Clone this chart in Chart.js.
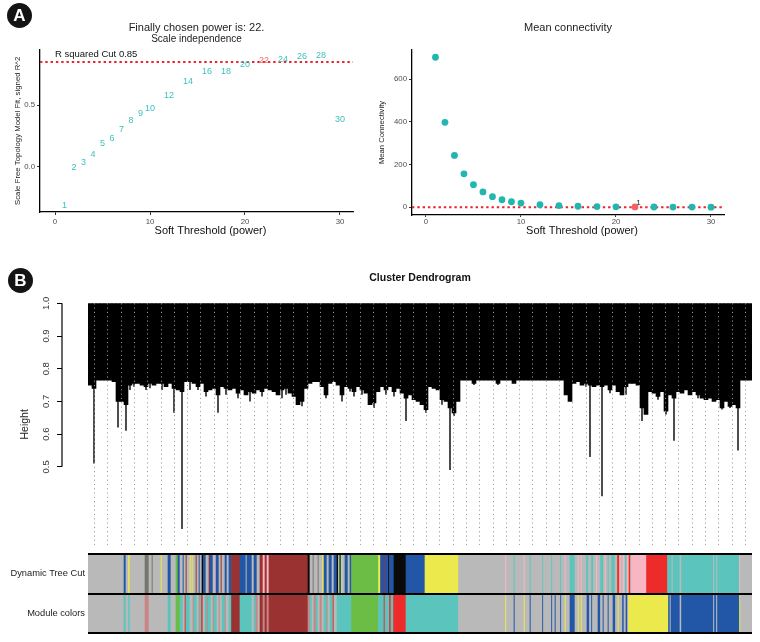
<!DOCTYPE html>
<html><head><meta charset="utf-8">
<script src="https://cdn.jsdelivr.net/npm/chart.js@4.4.1/dist/chart.umd.min.js"></script>
<style>
html,body{margin:0;padding:0;background:#fff;}
#wrap{position:relative;width:760px;height:642px;overflow:hidden;background:#fff;}
canvas{position:absolute;}
.tag{position:absolute;width:25px;height:25px;border-radius:50%;background:#141414;color:#fff;font:bold 17px "Liberation Sans",Arial,sans-serif;text-align:center;line-height:25px;}
</style></head><body>
<div id="wrap">
<canvas id="cA1" width="380" height="245" style="left:0;top:0"></canvas>
<canvas id="cA2" width="386" height="245" style="left:374px;top:0"></canvas>
<canvas id="cB" width="760" height="300" style="left:0;top:255px"></canvas>
<canvas id="cC" width="760" height="97" style="left:0;top:545px"></canvas>
<div class="tag" style="left:7px;top:3px">A</div>
<div class="tag" style="left:8px;top:268px">B</div>
</div>
<script>
// ---------------- DATA ----------------
const powers = [1,2,3,4,5,6,7,8,9,10,12,14,16,18,20,22,24,26,28,30];
const scaleFitR2 = [-0.32,-0.01,0.035,0.10,0.19,0.23,0.30,0.375,0.43,0.47,0.58,0.69,0.775,0.77,0.83,0.865,0.87,0.895,0.90,0.38];
const meanConnectivity = [703,398,243,157,106,72,50,36,26,20,12,8,5,3.5,2.5,2,1.5,1.2,1,0.8];
const chosenPower = 22;
const r2Cut = 0.85;
const connectivityCut = 0;
const chosenTag = "1";
const powerTicks = [0,10,20,30];
const r2Ticks = [0,0.5];
const connectivityTicks = [0,200,400,600];
const xTitle = 'Soft Threshold (power)';

// dendrogram: merge height at which each leaf group joins (leaf order)
const leafHeights = [
0.75,0.74,0.765,0.765,0.765,0.765,0.76,0.70,0.70,0.69,
0.75,0.755,0.755,0.75,0.745,0.755,0.75,0.755,0.755,0.745,
0.755,0.74,0.735,0.73,0.76,0.76,0.755,0.745,0.755,0.73,
0.735,0.74,0.72,0.745,0.74,0.735,0.74,0.725,0.735,0.72,
0.73,0.725,0.735,0.73,0.74,0.735,0.73,0.72,0.735,0.74,
0.725,0.715,0.69,0.70,0.74,0.755,0.76,0.76,0.745,0.72,
0.755,0.76,0.75,0.72,0.745,0.74,0.73,0.745,0.735,0.725,
0.69,0.695,0.73,0.745,0.735,0.745,0.73,0.74,0.725,0.71,
0.72,0.705,0.70,0.69,0.675,0.745,0.74,0.735,0.705,0.70,
0.68,0.665,0.70,0.765,0.765,0.765,0.755,0.765,0.765,0.765,
0.765,0.765,0.755,0.765,0.765,0.765,0.755,0.765,0.765,0.765,
0.765,0.765,0.765,0.765,0.765,0.765,0.765,0.765,0.765,0.72,
0.70,0.755,0.76,0.75,0.755,0.75,0.745,0.75,0.745,0.75,
0.735,0.75,0.73,0.72,0.745,0.755,0.755,0.75,0.68,0.66,
0.73,0.725,0.715,0.73,0.67,0.72,0.71,0.73,0.725,0.735,
0.72,0.73,0.72,0.71,0.705,0.71,0.70,0.705,0.68,0.70,
0.685,0.69,0.68,0.765,0.765,0.765];
// single thin branches hanging below the merged mass: [leaf, height]
const thinBranches = [
[1,0.51],[7,0.62],[9,0.61],[10,0.735],[11,0.745],[14,0.735],[15,0.74],[18,0.735],[21,0.665],[23,0.31],
[25,0.735],[27,0.735],[29,0.715],[32,0.665],[34,0.72],[37,0.71],[40,0.70],[43,0.715],[48,0.71],[49,0.72],
[53,0.685],[59,0.71],[63,0.70],[65,0.73],[66,0.715],[68,0.72],[71,0.68],[74,0.72],[76,0.715],[79,0.64],
[84,0.665],[88,0.69],[90,0.49],[91,0.655],[96,0.75],[102,0.75],[124,0.745],[125,0.53],[128,0.41],[130,0.725],
[134,0.72],[138,0.64],[142,0.705],[144,0.66],[146,0.58],[152,0.71],[158,0.675],[160,0.68],[162,0.55]];
const heightTicks = [0.5,0.6,0.7,0.8,0.9,1.0];
const guideCount = 50;

// colour rows: [module, cumulative rank at end of run] (664 ranks in leaf order)
const colorRowLabels = ["Dynamic Tree Cut","Module colors"];
const treeCutRuns = [
["grey",36],["blue",38],["grey",40.5],["yellow",42],["grey",57],["darkgrey",61],["grey",64],["darkgrey",65],["grey",73],["yellow",74],
["grey",80],["blue",83],["grey",88],["green",90],["blue",92],["grey",95],["blue",96],["grey",98],["brown",99],["grey",102],
["yellow",103],["grey",104],["yellow",105],["grey",108],["brown",109],["grey",111],["blue",112],["grey",114],["black",115.5],["blue",118],
["grey",121],["brown",122],["blue",125],["grey",127],["pink",128],["blue",131],["grey",133],["brown",134],["grey",137],["blue",139],
["grey",141],["blue",143.5],["brown",152],["blue",158],["grey",159],["blue",164],["grey",166],["blue",169],["grey",172],["brown",175],
["pink",177],["brown",179],["pink",181],["brown",220],["black",222],["grey",225],["darkgrey",226],["grey",230],["darkgrey",231],["grey",234.5],
["yellow",236],["blue",239],["grey",241],["blue",244],["grey",246],["blue",249],["black",250.5],["yellow",251.5],["blue",253.5],["yellow",254.5],
["grey",257],["blue",260],["grey",262],["blue",263.5],["green",290.5],["yellow",292.5],["blue",296],["brown",297],["blue",300.5],["black",301.5],
["blue",306],["black",318],["blue",337],["yellow",370.5],["grey",417.5],["pink",418.5],["grey",426],["turquoise",427],["grey",436],["pink",437],
["grey",442],["turquoise",443],["grey",454.5],["turquoise",455.5],["grey",463.5],["turquoise",464.5],["grey",472.5],["turquoise",473.5],["grey",477],["pink",478],
["grey",482],["turquoise",487],["grey",490],["pink",491],["grey",493],["pink",494],["grey",498.5],["turquoise",500.5],["grey",503.5],["turquoise",505.5],
["grey",508.5],["pink",509.5],["grey",512.5],["turquoise",515.5],["grey",517],["pink",518],["grey",520],["turquoise",521],["grey",523.5],["turquoise",527],
["grey",529.5],["red",531.5],["pink",533],["grey",535],["pink",537],["turquoise",539],["pink",541],["red",542.5],["grey",543.5],["pink",558.5],
["red",579.5],["turquoise",584],["grey",585],["turquoise",592],["grey",593.5],["turquoise",625.5],["grey",626.5],["turquoise",628.5],["grey",629.5],["turquoise",651.5],
["pink",652.5],["grey",664]];
const moduleColorRuns = [
["grey",36],["turquoise",38],["grey",40.5],["turquoise",42],["grey",57],["salmon",61],["grey",80],["turquoise",83],["grey",88],["green",92],
["turquoise",95],["grey",97],["red",98],["turquoise",102],["grey",105],["salmon",106],["turquoise",109],["grey",111],["salmon",112],["turquoise",113.5],
["red",115],["grey",117],["turquoise",119],["salmon",120],["turquoise",123],["grey",125],["salmon",126],["turquoise",129],["grey",131],["salmon",132],
["grey",134],["turquoise",137],["salmon",138],["grey",141],["turquoise",143.5],["brown",152],["turquoise",164],["grey",166],["turquoise",168],["salmon",170],
["grey",172],["brown",175],["salmon",177],["brown",179],["salmon",181],["brown",220],["salmon",222],["turquoise",224],["grey",226],["salmon",228],
["turquoise",230],["grey",232],["salmon",234],["grey",236],["turquoise",239],["salmon",240],["grey",242],["turquoise",245],["red",246],["grey",249],
["turquoise",263.5],["green",290.5],["turquoise",296],["red",297],["turquoise",301.5],["red",303],["turquoise",305.5],["red",318],["turquoise",370.5],["grey",417.5],
["yellow",418.5],["grey",426],["blue",427],["grey",436],["yellow",437],["grey",442],["blue",443],["grey",454.5],["blue",455.5],["grey",463.5],
["blue",464.5],["grey",467],["blue",468],["grey",472.5],["blue",473.5],["grey",477],["yellow",478],["grey",482],["blue",487],["grey",490],
["yellow",491],["grey",493],["yellow",494],["grey",499],["blue",501.5],["grey",503.5],["blue",504.5],["grey",510],["blue",512.5],["grey",515],
["blue",516],["grey",520],["blue",521],["grey",525],["blue",527.5],["grey",530],["yellow",531],["grey",534.5],["blue",536],["grey",538],
["blue",539.5],["grey",540.5],["yellow",580.5],["blue",582],["grey",583],["blue",592],["grey",593.5],["blue",625.5],["grey",626.5],["blue",628.5],
["grey",629.5],["blue",651.5],["yellow",652.5],["grey",664]];
const moduleColors = {
  grey:"#b9b9b9", turquoise:"#5bc5bd", blue:"#2256a6", brown:"#9b3232", yellow:"#ece94c",
  green:"#6cbd45", red:"#ee2b2b", pink:"#f7b6c1", black:"#0a0a0a", darkgrey:"#77766e", salmon:"#c98585"
};

// ---------------- STYLE ----------------
const FONT = '"Liberation Sans", Arial, Helvetica, sans-serif';
Chart.defaults.font.family = FONT;
Chart.defaults.color = '#222';
Chart.defaults.animation = false;
const CYAN_TXT = '#3cc2bd', CYAN_PT = '#22b6b1', RED = '#e8262b', RED_LBL = '#ef6b6b';

function dottedHLine(valueGetter){
  return {
    id:'cutLine',
    beforeDatasetsDraw(chart){
      const y = chart.scales.y.getPixelForValue(valueGetter());
      const a = chart.chartArea, ctx = chart.ctx;
      ctx.save(); ctx.strokeStyle = RED; ctx.lineWidth = 2; ctx.setLineDash([2.4,2.9]);
      ctx.beginPath(); ctx.moveTo(a.left, y); ctx.lineTo(a.right, y); ctx.stroke(); ctx.restore();
    }
  };
}
// x-axis title, placed slightly right of the panel centre as in the original figure
const xTitlePlugin = {
  id:'xTitle',
  afterDraw(chart){
    const a = chart.chartArea, ctx = chart.ctx;
    ctx.save(); ctx.fillStyle='#111'; ctx.font='11px '+FONT; ctx.textAlign='center'; ctx.textBaseline='middle';
    ctx.fillText(xTitle, (a.left+a.right)/2 + 14, chart.height - 14); ctx.restore();
  }
};
function ggAxis(min,max,tickList,opts){
  return Object.assign({
    type:'linear', min, max,
    afterBuildTicks:s=>{ s.ticks = tickList.map(v=>({value:v})); },
    ticks:{color:'#4d4d4d', font:{size:7.8}, padding:2},
    grid:{drawOnChartArea:false, tickLength:3, color:'#333', tickColor:'#333'},
    border:{display:true, color:'#000', width:1.3}
  }, opts);
}

// ---------------- A1: scale independence ----------------
new Chart(document.getElementById('cA1'), {
  type:'scatter',
  data:{datasets:[{data:powers.map((p,i)=>({x:p,y:scaleFitR2[i]})), pointRadius:0, pointHoverRadius:0}]},
  options:{
    responsive:false, events:[],
    layout:{padding:{right:27}},
    plugins:{
      legend:{display:false}, tooltip:{enabled:false},
      title:{display:true, fullSize:false, text:'Finally chosen power is: 22.', color:'#222', font:{size:11, weight:'normal', lineHeight:1.0}, padding:{top:22.3,bottom:0.5}},
      subtitle:{display:true, fullSize:false, text:'Scale independence', color:'#222', font:{size:10, lineHeight:1.0}, padding:{top:0,bottom:5.9}}
    },
    scales:{
      x: ggAxis(-1.58,31.37,powerTicks,{afterFit:s=>{s.height=33;}}),
      y: ggAxis(-0.372,0.951,r2Ticks,{afterFit:s=>{s.width=40;},
        ticks:{color:'#4d4d4d', font:{size:7.8}, padding:2, callback:v=>Number(v).toFixed(1)},
        title:{display:true,text:'Scale Free Topology Model Fit, signed R^2',color:'#222',font:{size:7.8},padding:{top:13,bottom:0}}})
    }
  },
  plugins:[dottedHLine(()=>r2Cut), xTitlePlugin, {
    id:'labels',
    afterDatasetsDraw(chart){
      const ctx = chart.ctx, meta = chart.getDatasetMeta(0);
      ctx.save(); ctx.font = '9px '+FONT; ctx.textAlign='center'; ctx.textBaseline='middle';
      meta.data.forEach((el,i)=>{
        ctx.fillStyle = powers[i]===chosenPower ? RED_LBL : CYAN_TXT;
        ctx.fillText(String(powers[i]), el.x, el.y);
      });
      ctx.fillStyle='#111'; ctx.font='9.5px '+FONT; ctx.textAlign='left';
      ctx.fillText('R squared Cut '+r2Cut, chart.scales.x.getPixelForValue(0), chart.scales.y.getPixelForValue(r2Cut)-8);
      ctx.restore();
    }
  }]
});

// ---------------- A2: mean connectivity ----------------
new Chart(document.getElementById('cA2'), {
  type:'scatter',
  data:{datasets:[{data:powers.map((p,i)=>({x:p,y:meanConnectivity[i]})), pointRadius:3.4, pointBorderWidth:0,
    pointBackgroundColor:powers.map(p=>p===chosenPower?'#f26464':CYAN_PT)}]},
  options:{
    responsive:false, events:[],
    layout:{padding:{right:36}},
    plugins:{
      legend:{display:false}, tooltip:{enabled:false},
      title:{display:true, fullSize:false, text:'Mean connectivity', color:'#222', font:{size:11, weight:'normal', lineHeight:1.2}, padding:{top:21.4,bottom:15.4}}
    },
    scales:{
      x: ggAxis(-1.47,31.37,powerTicks,{afterFit:s=>{s.height=30;},
        ticks:{color:'#4d4d4d', font:{size:7.8}, padding:0},
        grid:{drawOnChartArea:false, tickLength:2, color:'#333', tickColor:'#333'}}),
      y: ggAxis(-36,737,connectivityTicks,{afterFit:s=>{s.width=38;},
        title:{display:true,text:'Mean Connectivity',color:'#222',font:{size:7.7},padding:{top:3,bottom:0}}})
    }
  },
  plugins:[dottedHLine(()=>connectivityCut), xTitlePlugin, {
    id:'tag',
    afterDatasetsDraw(chart){
      const el = chart.getDatasetMeta(0).data[powers.indexOf(chosenPower)];
      const ctx = chart.ctx; ctx.save(); ctx.fillStyle='#111'; ctx.font='7.5px '+FONT;
      ctx.textAlign='left'; ctx.textBaseline='bottom'; ctx.fillText(chosenTag, el.x+1.5, el.y-0.5); ctx.restore();
    }
  }]
});

// ---------------- B: dendrogram ----------------
new Chart(document.getElementById('cB'), {
  type:'bar',
  data:{datasets:[
    {data:leafHeights.map((h,i)=>({x:i+0.5, y:[h,1.0]})), backgroundColor:'#000', borderWidth:0, grouped:false, barPercentage:1, categoryPercentage:1},
    {data:thinBranches.map(([l,h])=>({x:l+0.5, y:[h, leafHeights[l]+0.005]})), backgroundColor:'#000', borderWidth:0, grouped:false, barPercentage:0.35, categoryPercentage:1}
  ]},
  options:{
    responsive:false, events:[],
    layout:{padding:{right:8,bottom:5}},
    plugins:{
      legend:{display:false}, tooltip:{enabled:false},
      title:{display:true, fullSize:false, text:'Cluster Dendrogram', color:'#111', font:{size:10.5, weight:'bold', lineHeight:1.2}, padding:{top:16.7,bottom:19}}
    },
    scales:{
      x:{type:'linear', min:0, max:leafHeights.length, offset:false,
        afterBuildTicks:s=>{ const n=leafHeights.length; s.ticks=[]; for(let k=1;k<guideCount;k++) s.ticks.push({value:k*n/guideCount}); },
        ticks:{display:false}, border:{display:false, dash:[1.1,3.2]},
        grid:{display:true, drawTicks:false, z:1, color:'#9a9a9a', lineWidth:1}
      },
      y:{type:'linear', position:'left', weight:1, min:0.26, max:1.0,
        afterBuildTicks:s=>{ s.ticks = heightTicks.map(v=>({value:v})); },
        afterFit:s=>{s.width=62;},
        ticks:{color:'#333', font:{size:9.5}, padding:4, minRotation:90, maxRotation:90, crossAlign:'center', callback:v=>Number(v).toFixed(1)},
        grid:{drawOnChartArea:false, tickLength:5, color:'#000', tickColor:'#000', lineWidth:1},
        border:{display:false},
        title:{display:true, text:'Height', color:'#222', font:{size:10.5}, padding:{top:18.4,bottom:0}}
      },
      yGap:{type:'linear', position:'left', weight:0, display:true, afterFit:s=>{s.width=26;},
        ticks:{display:false}, grid:{display:false}, border:{display:false}}
    }
  },
  plugins:[{
    id:'axisLine',
    afterDraw(chart){
      const s = chart.scales.y, ctx = chart.ctx;
      ctx.save(); ctx.strokeStyle='#000'; ctx.lineWidth=1.2;
      ctx.beginPath(); ctx.moveTo(s.right, s.getPixelForValue(heightTicks[0])); ctx.lineTo(s.right, s.getPixelForValue(heightTicks[heightTicks.length-1])); ctx.stroke();
      ctx.restore();
    }
  }]
});

// ---------------- C: colour rows ----------------
function runsToBars(runs,row){
  let start = 0;
  return runs.map(([m,end])=>{ const b={x:[start,end], y:row, m}; start=end; return b; });
}
new Chart(document.getElementById('cC'), {
  type:'bar',
  data:{labels:colorRowLabels, datasets:[
    {data:runsToBars(treeCutRuns,colorRowLabels[0]), backgroundColor:c=>moduleColors[c.raw.m], borderWidth:0, grouped:false, barPercentage:1, categoryPercentage:1},
    {data:runsToBars(moduleColorRuns,colorRowLabels[1]), backgroundColor:c=>moduleColors[c.raw.m], borderWidth:0, grouped:false, barPercentage:1, categoryPercentage:1}
  ]},
  options:{
    indexAxis:'y', responsive:false, events:[],
    layout:{padding:{top:8,right:8,bottom:4.7}},
    plugins:{legend:{display:false}, tooltip:{enabled:false}},
    scales:{
      x:{type:'linear', min:0, max:664, display:false},
      y:{type:'category', afterFit:s=>{s.width=88;}, border:{display:false},
        ticks:{color:'#222', font:{size:9.3}, padding:3},
        grid:{offset:true, drawTicks:false, color:'#000', lineWidth:2, z:1}}
    }
  }
});
</script>
</body></html>
